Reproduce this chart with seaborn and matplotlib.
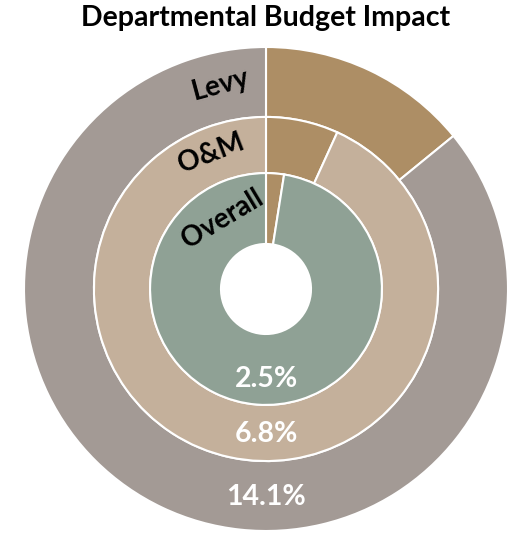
import numpy as np
import matplotlib
matplotlib.use("Agg")
import matplotlib.pyplot as plt
import seaborn as sns

# datos del grafico
anillos = ["Levy", "O&M", "Overall"]
impacto = [14.1, 6.8, 2.5]
etiquetas = ["14.1%", "6.8%", "2.5%"]

# colores (impacto, resto) por anillo
color_impacto = "#ad8e65"
colores_resto = ["#a39a95", "#c4b09b", "#8fa195"]

sns.set_theme(style="white")
plt.rcParams['font.family'] = ['Lato', 'DejaVu Sans']

fig = plt.figure(figsize=(5.12, 5.35), dpi=100)
ax = fig.add_axes([24 / 512, 4 / 535, 484 / 512, 484 / 535])

radios = [1.0, 0.711, 0.479]
hueco = 0.186
pos_texto = [0.86, 0.60, 0.37]
rot_nombre = [15, 21, 31]
ang_nombre = [12.5, 22, 32]

for i, nombre in enumerate(anillos):
    r = radios[i]
    interior = radios[i + 1] if i + 1 < len(radios) else hueco
    ax.pie([impacto[i], 100 - impacto[i]], radius=r, startangle=90,
           counterclock=False, colors=[color_impacto, colores_resto[i]],
           wedgeprops=dict(width=r - interior, edgecolor="white", linewidth=1.5))
    # etiqueta de porcentaje abajo
    ax.text(0, -pos_texto[i], etiquetas[i], ha="center", va="center",
            color="white", fontsize=20.5, fontweight="bold")
    # nombre del anillo arriba a la izquierda
    a = np.deg2rad(90 + ang_nombre[i])
    rm = (r + interior) / 2 + 0.01
    ax.text(rm * np.cos(a), rm * np.sin(a), nombre, ha="center", va="center",
            rotation=rot_nombre[i], color="black", fontsize=20, fontweight="bold")

ax.set_xlim(-1, 1)
ax.set_ylim(-1, 1)
ax.set_aspect("equal")
ax.axis("off")

fig.text(0.518, 0.966, "Departmental Budget Impact", ha="center", va="center",
         fontsize=20.5, fontweight="bold", color="black")

fig.savefig("out.png", dpi=100)
